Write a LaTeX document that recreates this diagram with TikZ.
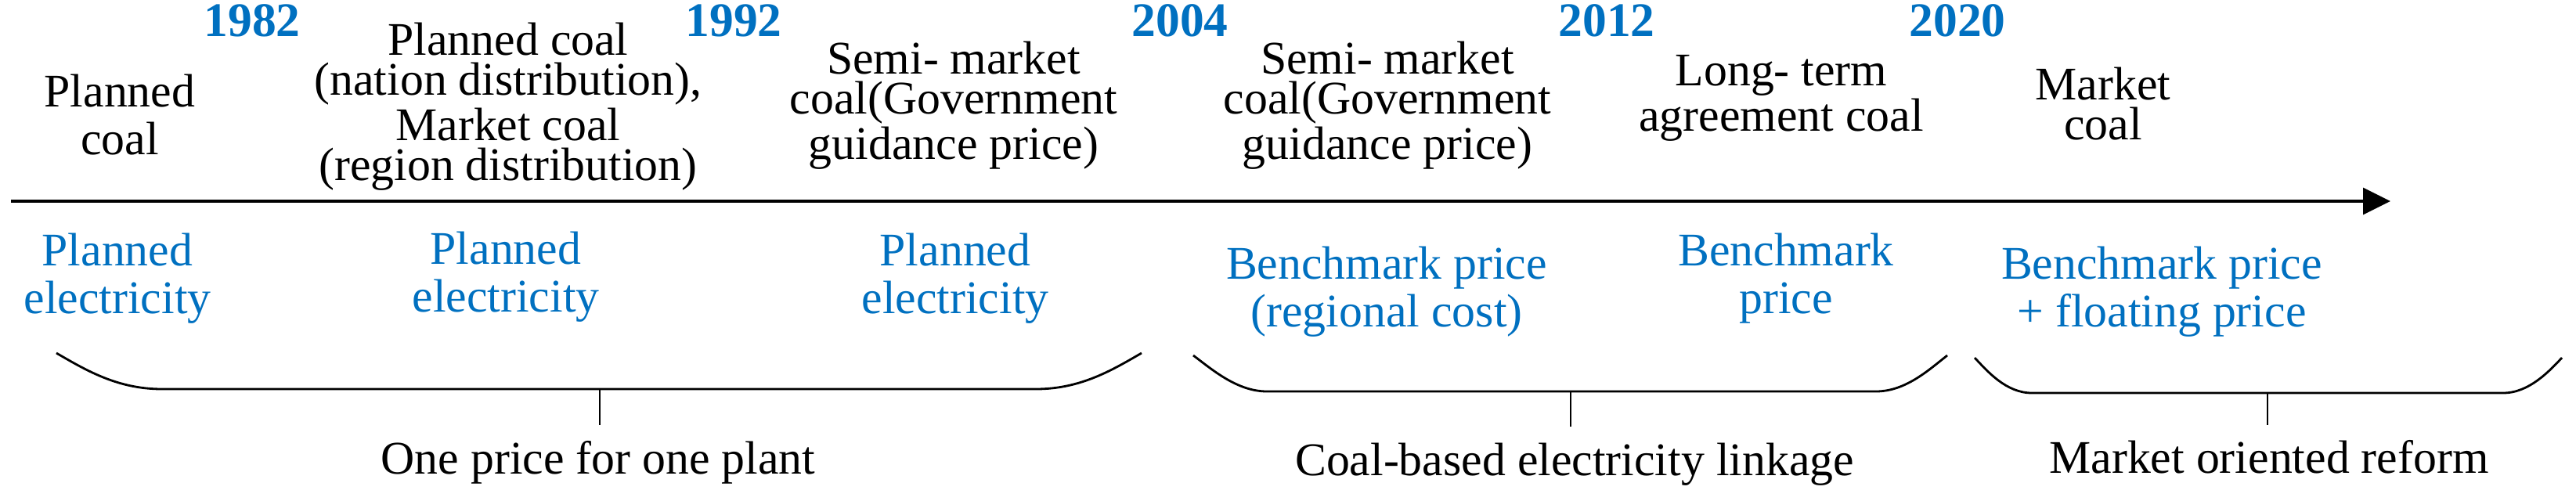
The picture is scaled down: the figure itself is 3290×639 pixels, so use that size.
\documentclass[tikz,border=0pt]{standalone}
\usepackage{fontspec}
\setmainfont{Liberation Serif}
\usetikzlibrary{arrows.meta}
\definecolor{blu}{HTML}{0070C0}
\begin{document}
\begin{tikzpicture}[x=0.01cm,y=-0.01cm,
  txt/.style={font=\fontsize{17}{17.07}\selectfont, inner sep=0, align=center, anchor=base},
  tighttxt/.style={font=\fontsize{17}{14.5}\selectfont, inner sep=0, align=center, anchor=base},
  eltxt/.style={txt, text=blu},
  yeartxt/.style={font=\fontsize{17.5}{18}\selectfont\bfseries, text=blu, inner sep=0, anchor=base},
  bracestyle/.style={line width=0.8pt},
  ticks/.style={line width=0.5pt}]
\useasboundingbox (0,0) rectangle (3290,639);

% years
\node[yeartxt] (y1982) at (322,46) {1982};
\node[yeartxt] (y1992) at (937,46) {1992};
\node[yeartxt] (y2004) at (1507,46) {2004};
\node[yeartxt] (y2012) at (2052,46) {2012};
\node[yeartxt] (y2020) at (2500,46) {2020};

% coal row (anchor = baseline of last line)
\node[txt] (c1) at (153,197) {Planned\\coal};
\node[tighttxt] (c2) at (649,230) {Planned coal\\(nation distribution),\\Market coal\\(region distribution)};
\node[tighttxt] (c3) at (1218,203) {Semi- market\\coal(Government\\guidance price)};
\node[tighttxt] (c4) at (1772,203) {Semi- market\\coal(Government\\guidance price)};
\node[tighttxt] (c5) at (2275,167) {Long- term\\agreement coal};
\node[tighttxt] (c6) at (2686,178) {Market\\coal};

% axis
\coordinate (axs) at (14,257);
\coordinate (axe) at (3053,257);
\draw[line width=1pt, -{Triangle[length=0.35cm,width=0.34cm]}] (axs) -- (axe);

% electricity row
\node[eltxt] (e1) at (150,400) {Planned\\electricity};
\node[eltxt] (e2) at (646,398) {Planned\\electricity};
\node[eltxt] (e3) at (1220,400) {Planned\\electricity};
\node[eltxt] (e4) at (1771,417) {Benchmark price\\(regional cost)};
\node[eltxt] (e5) at (2281,400) {Benchmark\\price};
\node[eltxt] (e6) at (2761,417) {Benchmark price\\+ floating price};

% braces
\draw[bracestyle] (72,451) .. controls (110,473) and (150,497) .. (207,497)
  -- (1323,497) .. controls (1380,497) and (1420,473) .. (1458,451);
\draw[bracestyle] (1524,454) .. controls (1548,472) and (1580,500) .. (1618,500)
  -- (2396,500) .. controls (2434,500) and (2464,472) .. (2487,454);
\draw[bracestyle] (2522,457) .. controls (2538,474) and (2562,502) .. (2595,502)
  -- (3197,502) .. controls (3230,502) and (3256,474) .. (3272,457);

% stage labels
\coordinate (b1) at (766,497);
\coordinate (b2) at (2006,500);
\coordinate (b3) at (2896,502);
\coordinate (t1) at (766,543);
\coordinate (t2) at (2006,545);
\coordinate (t3) at (2896,543);
\draw[ticks] (b1) -- (t1);
\draw[ticks] (b2) -- (t2);
\draw[ticks] (b3) -- (t3);
\node[txt] (s1) at (764,605) {One price for one plant};
\node[txt] (s2) at (2011,607) {Coal-based electricity linkage};
\node[txt] (s3) at (2898,604) {Market oriented reform};
\end{tikzpicture}
\end{document}
